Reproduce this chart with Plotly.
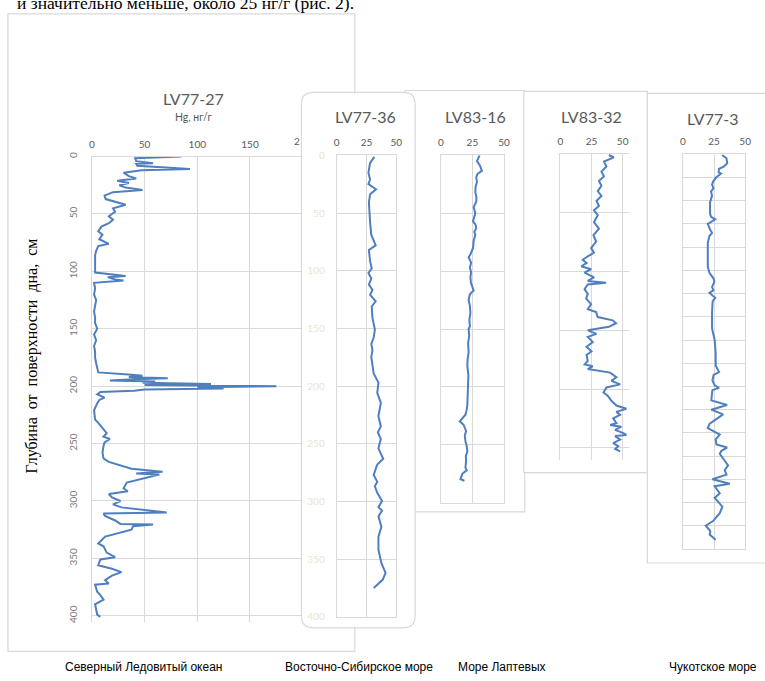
import plotly.graph_objects as go

W, H = 765, 681

# ---------------- data (depth, cm ; Hg, ng/g) ----------------
LV77_27 = [(0, 85), (1.5, 41), (4, 42), (5.7, 58), (6.3, 42), (8, 43), (10.9, 93), (12, 47), (14, 30),
           (17, 35), (19, 42), (21, 24), (23, 35), (25, 26), (27, 32), (29, 48), (31, 20), (34, 12),
           (37, 13), (40, 25), (42, 32), (45, 20), (48, 22), (52, 16), (55, 20), (58, 16), (61, 9),
           (65, 6), (68, 10), (72, 7), (76, 16), (78, 6), (82, 4), (86, 3), (92, 3), (100, 3), (101, 3),
           (103, 22), (104, 32), (105, 15), (107, 22), (108, 30), (110, 2), (115, 3), (120, 2), (125, 4),
           (130, 3), (135, 2), (140, 3), (145, 3), (150, 5), (155, 2), (160, 4), (165, 2), (170, 3),
           (175, 3), (180, 4), (185, 5), (188, 6), (190, 38), (191, 48), (192, 35), (193, 72), (194, 40),
           (195, 17), (196, 60), (197, 48), (198, 113), (199, 50), (200, 175), (201, 100), (202, 125),
           (203, 50), (204, 40), (205, 8), (207, 5), (210, 12), (212, 7), (215, 5), (221, 2), (229, 3),
           (232, 6), (241, 14), (244, 11), (246, 17), (249, 12), (252, 11), (258, 10), (263, 11),
           (266, 16), (269, 28), (272, 37.5), (274.6, 67), (276, 42), (277, 64), (280, 50), (284, 33),
           (289, 30), (291.5, 34), (294, 16), (297, 19), (300, 27), (303, 20), (305.6, 28), (308.5, 53),
           (310, 71), (311, 11), (313, 12.5), (317, 22), (320, 27), (320.6, 58), (322, 39), (325, 37.5),
           (328, 25), (331, 12.5), (337, 6), (339.5, 11), (345, 14), (349, 22), (351, 8), (356, 6),
           (359, 19), (362, 28), (365, 19), (369, 12.5), (372, 16), (373, 3), (379, 5), (382, 8),
           (386, 11), (390, 3), (399, 5), (401, 8)]

LV77_36 = [(1.4, 31.6), (6.6, 28), (15, 26.6), (21, 28), (25, 26.6), (29.4, 33), (33.7, 28), (41, 27),
           (58, 28), (69, 29), (78, 32.7), (82, 27), (92, 28), (98, 29.4), (102, 26.6), (106.6, 29),
           (112, 27), (116.6, 30), (121, 28), (126.6, 32.7), (131, 29.4), (141, 30), (151, 32),
           (158, 31), (163.6, 29), (169, 30), (175, 29), (189, 31), (197, 35), (206, 34), (214.6, 37),
           (226, 35), (235, 37), (240, 34.5), (246, 37), (254, 35), (263, 39), (268, 34), (277, 31),
           (283, 34), (287, 32), (292.6, 34), (299.6, 38), (305, 35), (308, 38), (313, 35),
           (322, 37.5), (330.6, 35), (342, 35), (353.5, 37.5), (362, 41), (368, 38.5), (375, 31)]

LV83_16 = [(0, 30.7), (5, 28.6), (9, 31), (13.5, 32.5), (16, 29), (19, 28), (23, 28.6), (27, 27.5),
           (32, 27.3), (36, 28.2), (40, 28), (44.6, 26), (50, 27.3), (54, 26.5), (57, 25.5), (60, 27.5),
           (63, 28), (66, 26.5), (68.6, 27.3), (74, 26), (80, 25.5), (85.6, 23.4), (88, 22), (92.6, 24),
           (97, 23), (101, 24), (105, 23.4), (110, 23.8), (116.7, 26), (120, 23), (125, 22), (130, 23),
           (136, 23.4), (142, 22.6), (147.7, 23), (150, 22), (156, 22.5), (162, 21.6), (170, 22),
           (176, 21.2), (181.6, 21), (190, 21.8), (200, 21.6), (208, 21), (215.6, 21), (220, 20.4),
           (224, 19.5), (229.7, 15), (232.6, 18), (238, 20), (242, 19), (247, 19.5), (251, 20.5),
           (255.5, 21), (260, 19.8), (264, 20), (269.7, 19.5), (272, 20.5), (275, 17), (279.6, 15.6),
           (281, 18.7)]

LV83_32 = [(0.8, 39), (2.8, 43), (6.4, 35), (10.6, 37), (15, 33), (19, 35), (23, 31), (27, 33),
           (31.5, 30), (35.7, 33), (40, 29), (44, 31), (48, 27), (52, 30), (58, 27), (63.5, 31),
           (69, 26.6), (74.6, 28.7), (80, 24.7), (84, 27), (87, 22), (90, 18), (92.8, 21), (95.5, 16.8),
           (98, 24.7), (101, 19.4), (105, 27), (108, 22), (109.5, 36.7), (111, 22), (115, 19.4),
           (119, 22), (123, 20.7), (127.6, 24.7), (132, 22), (134.5, 28.7), (138.7, 30), (141.5, 42),
           (144, 44.7), (147, 39), (150, 22), (153, 29), (155.6, 22), (160, 26), (164, 21), (168, 25),
           (171, 21), (176, 22), (179, 19.5), (180.6, 26), (183, 22), (186, 40), (190, 45), (193, 41),
           (196, 48), (198.6, 37), (203, 34.6), (205.6, 38), (210, 41), (214, 45), (216.7, 53),
           (219.4, 45), (222, 48), (225, 42.4), (229, 45), (230.5, 40), (232, 49), (234.7, 44),
           (237.5, 50.5), (239, 53), (240, 44), (243, 48), (246, 42.4), (248.6, 46.5), (251, 44),
           (253, 48)]

LV77_3 = [(0.3, 31.4), (1.7, 35), (3.8, 35.6), (5.2, 33), (6.3, 29), (7.7, 28.7), (8.3, 30.6), (10, 26.6),
          (11.5, 24.5), (12.9, 23.4), (14.7, 24.5), (16, 22.6), (17.8, 23.4), (20.6, 21.8), (25.5, 21.8),
          (26.9, 22.6), (28, 26), (30, 20), (32.4, 21.8), (33.8, 23.4), (35.2, 21.3), (38, 20), (43, 20),
          (48.5, 20), (51, 21.3), (53.4, 24.5), (54.8, 25.3), (57.2, 23.4), (58.6, 24.5), (59.7, 21.3),
          (61.8, 26), (63.2, 23.9), (68, 23.4), (75, 23.4), (80, 25.5), (85.4, 26.3), (91, 26.3),
          (93.8, 29), (95, 24.7), (97.4, 23.7), (99.5, 25.5), (100.6, 29), (101.6, 23.7), (106, 22.8),
          (108, 35.5), (110, 22.8), (112, 32.3), (116, 21.5), (117.9, 20), (119.3, 25.5), (120.7, 29.6),
          (122.8, 26.3), (125, 26.9), (126.3, 35.5), (127.7, 31), (129, 29.6), (132, 33.6), (134, 36.3),
          (136, 33.6), (138, 35), (140, 23.7), (141.9, 37.6), (143, 25.5), (146, 29.6), (148, 25.5),
          (151.8, 31.7), (154.6, 29.6), (156, 27.4), (158, 24.2), (160, 18.3), (162.3, 22), (163.8, 21.5),
          (166, 26.3)]

CORE_NAMES = ["LV77-27", "LV77-36", "LV83-16", "LV83-32", "LV77-3"]
SEA_LABELS = ["Северный Ледовитый океан", "Восточно-Сибирское море", "Море Лаптевых", "Чукотское море"]
X_UNIT = "Hg, нг/г"
Y_TITLE = "Глубина  от  поверхности  дна,  см"
TOP_TEXT = "и значительно меньше, около 25 нг/г (рис. 2)."


def fx(px):
    return px / W


def fy(py):
    return 1 - py / H


LINE = "#4f7fbf"
GRID = "#d9d9d9"
TXT = "#595959"
FONT = "Lato, Open Sans, sans-serif"

fig = go.Figure()
series = [LV77_27, LV77_36, LV83_16, LV83_32, LV77_3]
for i, s in enumerate(series):
    suf = "" if i == 0 else str(i + 1)
    fig.add_trace(go.Scatter(x=[v for _, v in s], y=[d for d, _ in s], mode="lines",
                             line=dict(color=LINE, width=2), xaxis="x" + suf, yaxis="y" + suf,
                             showlegend=False, hoverinfo="skip"))

# panel geometry in pixels: (x0, x1, ytop, ybot, xrange, yrange, ydtick, mirror, y labels)
panels = [
    (90, 302.5, 153.3, 627, [0, 199.3], [405.4, 0], 50, False, "rot"),
    (337.7, 398, 152, 621.7, [0, 50], [400, 0], 50, True, "pale"),
    (443, 507, 152, 505.7, [0, 50], [300, 0], 50, True, None),
    (564, 633.3, 150.7, 461.7, [0, 55], [260, 0], 50, False, None),
    (688, 751, 151, 552.7, [0, 50], [170, 0], 10, True, None),
]
for i, (x0, x1, yt, yb, xr, yr, ydt, mir, ylab) in enumerate(panels):
    suf = "" if i == 0 else str(i + 1)
    xt = [0, 50, 100, 150] if i == 0 else [0, 25, 50]
    xa = dict(domain=[fx(x0), fx(x1)], range=xr, side="top", anchor="y" + suf,
              tickvals=xt, tickfont=dict(size=10, color=TXT, family=FONT),
              showgrid=True, gridcolor=GRID, gridwidth=1, zeroline=False,
              showline=True, linecolor=GRID, mirror=mir, ticks="", ticklabelstandoff=4,
              fixedrange=True)
    ya = dict(domain=[fy(yb), fy(yt)], range=yr, anchor="x" + suf, dtick=ydt,
              showgrid=True, gridcolor=GRID, gridwidth=1, zeroline=False,
              showline=True, linecolor=GRID, mirror=mir, ticks="", fixedrange=True)
    if ylab == "rot":
        ya.update(showticklabels=True, tickangle=-90, ticklabelstandoff=10,
                  tickfont=dict(size=10, color="#7a7a7a", family=FONT))
    elif ylab == "pale":
        ya.update(showticklabels=True, ticklabelstandoff=9,
                  tickfont=dict(size=10, color="#e6e6cf", family=FONT))
    else:
        ya.update(showticklabels=False)
    fig.layout["xaxis" + suf] = xa
    fig.layout["yaxis" + suf] = ya

# frames of the pasted charts
shapes = []


def rect(x0, y0, x1, y1):
    return dict(type="rect", xref="paper", yref="paper", x0=fx(x0), x1=fx(x1), y0=fy(y1), y1=fy(y0),
                line=dict(color=GRID, width=1.2), fillcolor="white", layer="below")


shapes.append(rect(5, 8, 356, 657))
shapes.append(rect(407, 86, 528, 515))
shapes.append(rect(527, 87, 652, 475))
shapes.append(rect(652, 89, 775, 567))
bx0, bx1, bt, bb = fx(302), fx(417), fy(88), fy(633)
rx, ry = 12 / W, 12 / H
path = (f"M {bx0 + rx},{bt} L {bx1 - rx},{bt} Q {bx1},{bt} {bx1},{bt - ry} L {bx1},{bb + ry} "
        f"Q {bx1},{bb} {bx1 - rx},{bb} L {bx0 + rx},{bb} Q {bx0},{bb} {bx0},{bb + ry} "
        f"L {bx0},{bt - ry} Q {bx0},{bt} {bx0 + rx},{bt} Z")
shapes.append(dict(type="path", xref="paper", yref="paper", path=path,
                   line=dict(color=GRID, width=1.2), fillcolor="white", layer="below"))

ann = []
title_pos = [(193, 94), (367, 112), (478, 112), (595, 112), (718, 115)]
for name, (px, py) in zip(CORE_NAMES, title_pos):
    ann.append(dict(text=name, x=fx(px), y=fy(py), xref="paper", yref="paper", showarrow=False,
                    xanchor="center", yanchor="middle", font=dict(size=16, color=TXT, family=FONT)))
ann.append(dict(text=X_UNIT, x=fx(193), y=fy(113), xref="paper", yref="paper", showarrow=False,
                xanchor="center", yanchor="middle", font=dict(size=10.5, color=TXT, family=FONT)))
ann.append(dict(text="2", x=fx(297), y=fy(137.5), xref="paper", yref="paper", showarrow=False,
                xanchor="center", yanchor="middle", font=dict(size=10, color=TXT, family=FONT)))
ann.append(dict(text=Y_TITLE, x=fx(29), y=fy(356), xref="paper", yref="paper", showarrow=False,
                textangle=-90, xanchor="center", yanchor="middle",
                font=dict(size=16, color="black", family="Liberation Serif, Times New Roman, serif")))
ann.append(dict(text=TOP_TEXT, x=fx(12), y=fy(-3), xref="paper", yref="paper", showarrow=False,
                xanchor="left", yanchor="middle",
                font=dict(size=17.5, color="black", family="Liberation Serif, Times New Roman, serif")))
sea_pos = [(142, "center"), (360, "center"), (505, "center"), (672, "left")]
for lab, (px, anc) in zip(SEA_LABELS, sea_pos):
    ann.append(dict(text=lab, x=fx(px), y=fy(673), xref="paper", yref="paper", showarrow=False,
                    xanchor=anc, yanchor="middle",
                    font=dict(size=12, color="black",
                              family="Liberation Sans Narrow, Arial Narrow, Liberation Sans, Arial")))

fig.update_layout(width=W, height=H, margin=dict(l=0, r=0, t=0, b=0), paper_bgcolor="white",
                  plot_bgcolor="rgba(0,0,0,0)", shapes=shapes, annotations=ann, showlegend=False)

fig.write_html("out.html", config={"displayModeBar": False},
               post_script="document.body.style.margin='0';")
